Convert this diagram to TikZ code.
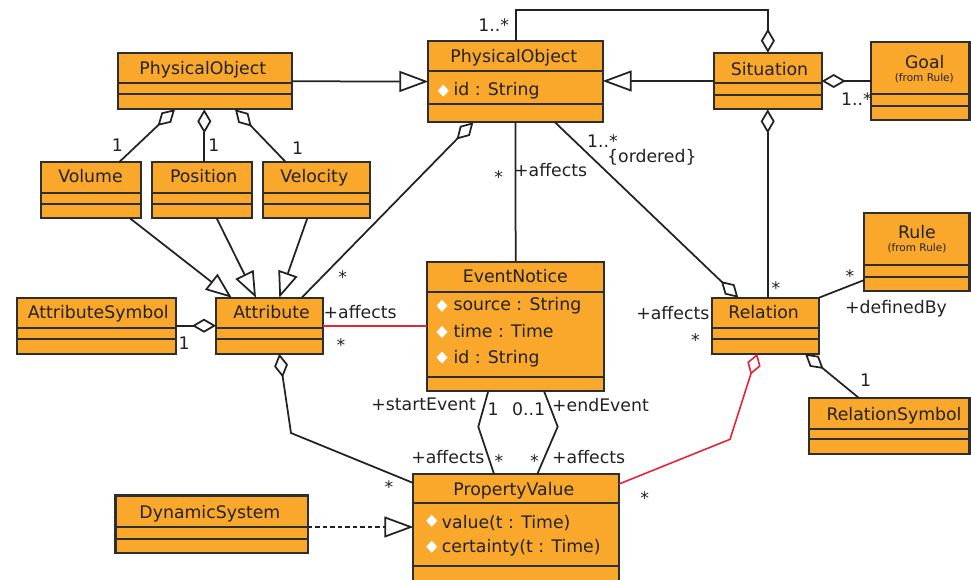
\documentclass[tikz,border=0pt]{standalone}
\usepackage{fontspec}
\setmainfont{DejaVu Sans}
\usetikzlibrary{arrows.meta}

\definecolor{classfill}{HTML}{F9A82B}
\definecolor{classedge}{HTML}{2E2E2E}
\definecolor{linkcol}{HTML}{222222}
\definecolor{linkred}{HTML}{E62433}
\definecolor{textcol}{HTML}{222222}

\tikzset{
  classbox/.style={rectangle, draw=classedge, fill=classfill, line width=2.2pt, inner sep=0pt, outer sep=0pt},
  classrule/.style={draw=classedge, line width=2pt},
  cname/.style={inner sep=0pt, anchor=base, text=textcol, font=\fontsize{17.3}{20}\selectfont},
  csub/.style={inner sep=0pt, anchor=base, text=textcol, font=\fontsize{10.5}{12}\selectfont},
  cattr/.style={inner sep=0pt, anchor=base west, text=textcol, font=\fontsize{17.3}{20}\selectfont},
  lbl/.style={inner sep=0pt, text=textcol, font=\fontsize{17.3}{20}\selectfont},
  link/.style={draw=linkcol, line width=1.75pt},
  redlink/.style={draw=linkred, line width=1.6pt},
  aggstart/.style={link, {Diamond[open, length=24pt, width=14pt]}-},
  aggend/.style={link, -{Diamond[open, length=24pt, width=14pt]}},
  genbig/.style={link, -{Triangle[open, length=29pt, width=21pt]}},
  gensmall/.style={link, -{Triangle[open, length=26pt, width=20pt]}},
  realize/.style={link, dash pattern=on 4.5pt off 3pt, -{Triangle[open, length=29pt, width=21pt]}},
  redagg/.style={redlink, {Diamond[open, length=22pt, width=14pt]}-},
}

% class box: name, left, top, right, bottom, first divider, second divider
\newcommand{\umlclass}[7]{%
  \node[classbox, anchor=north west, minimum width={(#4-#2)*1pt}, minimum height={(#5-#3)*1pt}] (#1) at (#2,#3) {};
  \draw[classrule] (#1.west |- 0,#6) -- (#1.east |- 0,#6);
  \draw[classrule] (#1.west |- 0,#7) -- (#1.east |- 0,#7);
}
% white visibility marker in front of an attribute
\newcommand{\attrmark}[2]{%
  \fill[white, shift={(#1,#2)}] (-5.5,0) -- (0,-6) -- (5.5,0) -- (0,6) -- cycle;
}

\begin{document}
\begin{tikzpicture}[x=1pt, y=-1pt]
\useasboundingbox (0,0) rectangle (971,579);

% ---------------- classes ----------------
\umlclass{po1}{118.3}{53.3}{292.3}{109.3}{83.3}{94.3}
\umlclass{po2}{428.3}{40.7}{602.7}{122.3}{70.7}{104}
\umlclass{sit}{714}{52.7}{821.7}{109.3}{83.3}{95}
\umlclass{goal}{871}{42.3}{969.5}{120}{94.3}{106}
\umlclass{vol}{40.7}{162.3}{140.7}{218.3}{192.7}{204}
\umlclass{pos}{152.3}{162.3}{252.3}{218.3}{192.7}{204}
\umlclass{velo}{263.3}{162.3}{370}{218.3}{192.7}{204}
\umlclass{asym}{16.7}{297.7}{176}{353.7}{328.3}{339.3}
\umlclass{attr}{216}{297.7}{323.3}{353.7}{328.3}{339.3}
\umlclass{en}{427.3}{261.7}{604}{391}{292.3}{376.7}
\umlclass{rel}{711.7}{297.7}{819}{353.7}{327.7}{338.7}
\umlclass{rule}{864.3}{212.7}{969.5}{290.7}{265}{276.7}
\umlclass{rsym}{809}{398.3}{969.5}{454}{429}{439.3}
\umlclass{pv}{413.3}{474}{619}{590}{503.3}{566}
\umlclass{ds}{115.5}{495.5}{307.7}{553.3}{527.3}{539}

% ---------------- class names and attributes ----------------
\node[cname] (po1n) at (202.8,74.3) {PhysicalObject};
\node[cname] (po2n) at (513.8,62.3) {PhysicalObject};
\attrmark{443.3}{90.7}
\node[cattr] (po2a) at (453.3,95.7) {id : String};
\node[cname] (sitn) at (769.5,75) {Situation};
\node[cname] (goaln) at (924.7,68.3) {Goal};
\node[csub] (goals) at (924.3,81) {(from Rule)};
\node[cname] (voln) at (90.5,182.7) {Volume};
\node[cname] (posn) at (203.7,182.7) {Position};
\node[cname] (velon) at (314.3,182.7) {Velocity};
\node[cname] (asymn) at (98.3,318.3) {AttributeSymbol};
\node[cname] (attrn) at (271.5,318.3) {Attribute};
\node[cname] (enn) at (515.3,282.3) {EventNotice};
\attrmark{442}{305.8}
\node[cattr] (ena) at (453.3,310) {source : String};
\attrmark{442}{332}
\node[cattr] (enb) at (453.3,337.3) {time : Time};
\attrmark{442}{357.5}
\node[cattr] (enc) at (453.3,363.3) {id : String};
\node[cname] (reln) at (763.7,318.3) {Relation};
\node[cname] (rulen) at (917,238.3) {Rule};
\node[csub] (rules) at (917,251.7) {(from Rule)};
\node[cname] (rsymn) at (894,420) {RelationSymbol};
\node[cname] (pvn) at (513.8,495) {PropertyValue};
\attrmark{431.7}{520.8}
\node[cattr] (pva) at (441.7,528.3) {value(t : Time)};
\attrmark{431.7}{546.7}
\node[cattr] (pvb) at (441.7,552.7) {certainty(t : Time)};
\node[cname] (dsn) at (209.9,518) {DynamicSystem};

% ---------------- generalisations ----------------
\draw[genbig] (po1.east) -- (po2.west);
\draw[genbig] (sit.west) -- (po2.east |- sit.west);
\draw[gensmall] (130,0 |- vol.south) -- (231.7,0 |- attr.north);
\draw[gensmall] (216.7,0 |- pos.south) -- (256,0 |- attr.north);
\draw[gensmall] (307.3,0 |- velo.south) -- (279.3,0 |- attr.north);
\draw[realize] (ds.east |- 0,527) -- (pv.west |- 0,527);

% ---------------- aggregations ----------------
\draw[aggend] (515.7,0 |- po2.north) -- (515.7,10) -| (767.9,0 |- sit.north);
\draw[aggstart] (sit.east) -- (goal.west |- sit.east);
\draw[aggstart] (767.7,0 |- sit.south) -- (767.7,0 |- rel.north);
\draw[aggstart] (175,0 |- po1.south) -- (119,0 |- vol.north);
\draw[aggstart] (204.3,0 |- po1.south) -- (204.3,0 |- pos.north);
\draw[aggstart] (235,0 |- po1.south) -- (286,0 |- velo.north);
\draw[aggstart] (473.3,0 |- po2.south) -- (301.7,0 |- attr.north);
\draw[aggend] (asym.east) -- (attr.west);
\draw[aggstart] (279.3,0 |- attr.south) -- (291,433) -- (pv.west |- 0,483);
\draw[aggend] (555,0 |- po2.south) -- (738.3,0 |- rel.north);
\draw[aggstart] (805,0 |- rel.south) -- (859.3,0 |- rsym.north);
\draw[redagg] (757.3,0 |- rel.south) -- (730,439.3) -- (pv.east |- 0,484);

% ---------------- associations ----------------
\draw[redlink] (attr.east) -- (en.west |- attr.east);
\draw[link] (po2.south) -- (en.north);
\draw[link] (rel.north east) -- (rule.west |- 0,280);
\draw[link] (488.3,0 |- en.south) -- (478.3,426.7) -- (494,0 |- pv.north);
\draw[link] (544,0 |- en.south) -- (557.7,426.7) -- (537.3,0 |- pv.north);

% ---------------- role names and multiplicities ----------------
\node[lbl, anchor=base east] (m1) at (509.3,31.7) {1..*};
\node[lbl, anchor=base west] (m2) at (841,105) {1..*};
\node[lbl, anchor=base] (m3) at (117.5,151.7) {1};
\node[lbl, anchor=base] (m4) at (213.8,151.7) {1};
\node[lbl, anchor=base] (m5) at (297.5,154.3) {1};
\node[lbl, anchor=base] (m6) at (342.7,283) {*};
\node[lbl, anchor=base west] (r1) at (323.5,318.3) {+affects};
\node[lbl, anchor=base] (m7) at (341,351) {*};
\node[lbl, anchor=base] (m8) at (184.2,349.3) {1};
\node[lbl, anchor=base] (m9) at (498.8,183.5) {*};
\node[lbl, anchor=base west] (r2) at (514,176.7) {+affects};
\node[lbl, anchor=base west] (m10) at (587,147.7) {1..*};
\node[lbl, anchor=base west] (m11) at (607,162) {\{ordered\}};
\node[lbl, anchor=base] (m12) at (776,294) {*};
\node[lbl, anchor=base] (m13) at (850,282) {*};
\node[lbl, anchor=base west] (r3) at (845,313.3) {+definedBy};
\node[lbl, anchor=base east] (r4) at (709.5,319) {+affects};
\node[lbl, anchor=base] (m14) at (695.5,346) {*};
\node[lbl, anchor=base] (m15) at (865.5,386) {1};
\node[lbl, anchor=base east] (r5) at (476,410) {+startEvent};
\node[lbl, anchor=base] (m16) at (493,415) {1};
\node[lbl, anchor=base west] (m17) at (512,415) {0..1};
\node[lbl, anchor=base west] (r6) at (552,411) {+endEvent};
\node[lbl, anchor=base east] (r7) at (484.5,463.3) {+affects};
\node[lbl, anchor=base] (m18) at (499,467) {*};
\node[lbl, anchor=base] (m19) at (534.5,467) {*};
\node[lbl, anchor=base west] (r8) at (552,463.3) {+affects};
\node[lbl, anchor=base] (m20) at (389,493.5) {*};
\node[lbl, anchor=base] (m21) at (644.7,504.5) {*};
\end{tikzpicture}
\end{document}
